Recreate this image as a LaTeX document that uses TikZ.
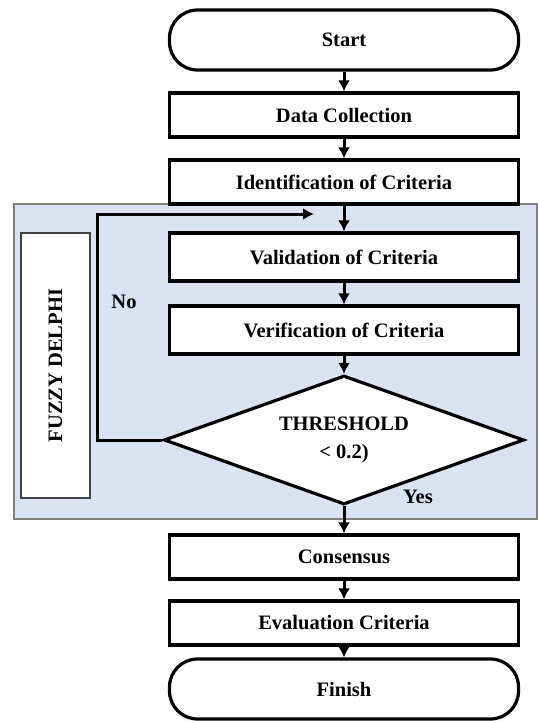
\documentclass[tikz,border=0pt]{standalone}
\usepackage{fontspec}
\setmainfont{Liberation Serif}
\usetikzlibrary{shapes.geometric,arrows.meta}
\definecolor{delphiblue}{RGB}{218,227,243}

\begin{document}
\begin{tikzpicture}[x=1pt, y=-1pt,
  every node/.style={font=\fontsize{20.5}{28}\selectfont\bfseries},
  stepbox/.style={draw,fill=white,line width=3.2pt,minimum width=349pt,minimum height=44pt},
  term/.style={stepbox,rounded corners=28pt,minimum height=60pt},
  cond/.style={draw,diamond,fill=white,line width=3.2pt,aspect=2.8,inner sep=0pt,
    minimum width=360pt,minimum height=129pt,align=center},
  link/.style={->,line width=3pt},
  >={Latex[length=11pt,width=12pt]}]
  \useasboundingbox (0,0) rectangle (538,721);
  % fuzzy delphi panel
  \draw[fill=delphiblue,draw=gray,line width=1.2pt] (14,204) rectangle (537,519);
  \node[draw=black!75,fill=white,line width=1.5pt,minimum width=265pt,minimum height=69pt,
    rotate=90] (fd) at (55.5,365.5) {FUZZY DELPHI};
  % main column
  \node[term] (start) at (344,40) {Start};
  \node[stepbox] (data) at (344,115) {Data Collection};
  \node[stepbox] (ident) at (344,182) {Identification of Criteria};
  \node[stepbox,minimum height=48pt] (valid) at (344,257) {Validation of Criteria};
  \node[stepbox,minimum height=48pt] (verif) at (344,330) {Verification of Criteria};
  \node[cond] (thr) at (344,440) {THRESHOLD\\< 0.2)};
  \node[stepbox] (cons) at (344,557) {Consensus};
  \node[stepbox] (eval) at (344,623) {Evaluation Criteria};
  \node[term] (finish) at (344,689) {Finish};
  \node (no) at (124,302) {No};
  \node (yes) at (418,497) {Yes};
  \draw[link] (start) -- (data);
  \draw[link] (data) -- (ident);
  \draw[link] (ident) -- (valid);
  \draw[link] (valid) -- (verif);
  \draw[link] (verif) -- (thr);
  \draw[link] (thr) -- (cons);
  \draw[link] (cons) -- (eval);
  \draw[link] (eval) -- (finish);
  % loop back when above threshold
  \coordinate (lc) at (97,214);
  \coordinate (ret) at (314,214);
  \draw[link] (thr.west) -| (lc) -- (ret);
\end{tikzpicture}
\end{document}
